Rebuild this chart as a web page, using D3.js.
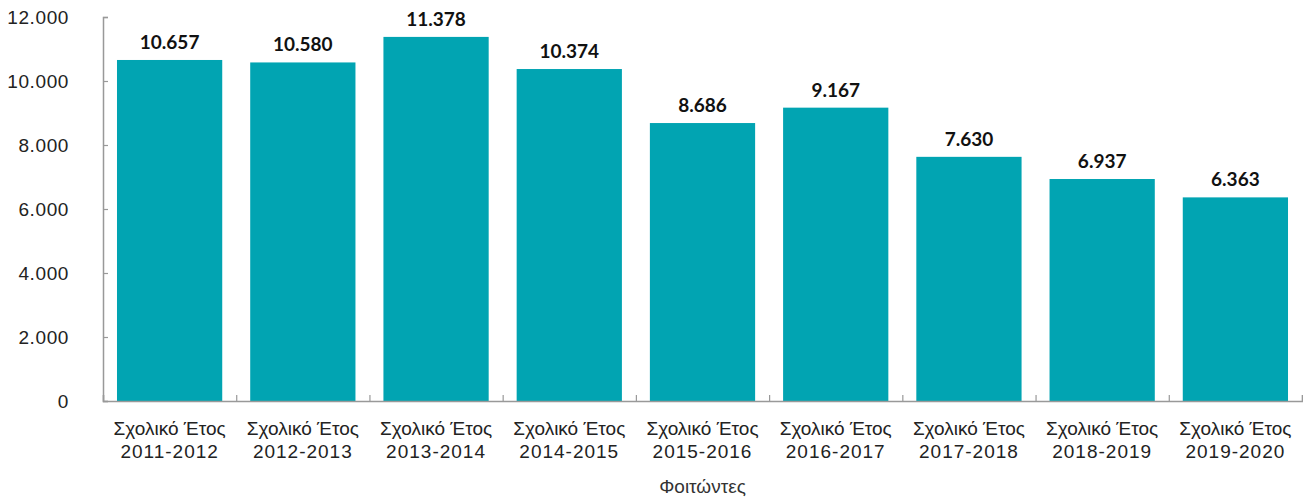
<!DOCTYPE html>
<html>
<head>
<meta charset="utf-8">
<script src="https://cdn.jsdelivr.net/npm/d3@7"></script>
<style>
body { margin: 0; background: white; }
</style>
</head>
<body>
<svg></svg>
<script>
var years = ["2011-2012", "2012-2013", "2013-2014", "2014-2015", "2015-2016",
             "2016-2017", "2017-2018", "2018-2019", "2019-2020"];
var students = [10657, 10580, 11378, 10374, 8686, 9167, 7630, 6937, 6363];
var yTicks = [0, 2000, 4000, 6000, 8000, 10000, 12000];
var prefix = "Σχολικό Έτος";
var axisTitle = "Φοιτώντες";

var svgWidth = 1303, svgHeight = 499;
var mLeft = 103, mRight = 1302, mTop = 17, mBottom = 401;

var svg = d3.select('svg')
    .attr('width', svgWidth)
    .attr('height', svgHeight);

var fmt = function(v) { return d3.format(",")(v).replace(/,/g, "."); };

var xScale = d3.scaleBand()
    .domain(years)
    .range([mLeft, mRight])
    .paddingInner(0.21)
    .paddingOuter(0.105);

var yScale = d3.scaleLinear()
    .domain([0, 12000])
    .range([mBottom, mTop]);

// bars
svg.selectAll("rect.bar")
    .data(students)
    .enter().append("rect")
    .attr("class", "bar")
    .attr("x", function(d, i) { return xScale(years[i]); })
    .attr("y", function(d) { return yScale(d); })
    .attr("width", xScale.bandwidth())
    .attr("height", function(d) { return mBottom - yScale(d); })
    .attr("fill", "#01A4B2");

// value labels
svg.selectAll("text.val")
    .data(students)
    .enter().append("text")
    .attr("class", "val")
    .attr("x", function(d, i) { return xScale(years[i]) + xScale.bandwidth() / 2; })
    .attr("y", function(d) { return yScale(d) - 11; })
    .attr("text-anchor", "middle")
    .style("font-family", "Lato")
    .style("font-weight", "bold")
    .style("font-size", "19px")
    .style("fill", "#111")
    .text(function(d) { return fmt(d); });

// y axis
var y_axis = d3.axisRight(yScale)
    .tickValues(yTicks)
    .tickSize(5)
    .tickFormat(function(d) { return fmt(d); });

var gy = svg.append("g")
    .attr("transform", "translate(" + mLeft + ",0)")
    .call(y_axis);
gy.select(".domain").attr("stroke", "#999").attr("stroke-width", 1.5);
gy.selectAll(".tick line").attr("stroke", "#999").attr("stroke-width", 1.2);
gy.selectAll(".tick text")
    .attr("x", -34)
    .attr("dy", "0.35em")
    .attr("text-anchor", "end")
    .style("font-family", "Liberation Sans")
    .style("font-size", "19px")
    .style("letter-spacing", "0.6px")
    .style("fill", "#222");

// x axis (ticks at band edges, pointing up)
var edgeScale = d3.scaleLinear().domain([0, years.length]).range([mLeft, mRight]);
var x_axis = d3.axisTop(edgeScale)
    .tickValues(d3.range(years.length + 1))
    .tickSize(6)
    .tickFormat("");
var gx = svg.append("g")
    .attr("transform", "translate(0," + mBottom + ")")
    .call(x_axis);
gx.select(".domain").attr("stroke", "#999").attr("stroke-width", 1.5);
gx.selectAll(".tick line").attr("stroke", "#999").attr("stroke-width", 1.2);

// category labels
var labels = svg.selectAll("text.cat")
    .data(years)
    .enter().append("text")
    .attr("class", "cat")
    .attr("text-anchor", "middle")
    .style("font-family", "Liberation Sans")
    .style("font-size", "19px")
    .style("fill", "#222");
labels.append("tspan")
    .attr("x", function(d) { return xScale(d) + xScale.bandwidth() / 2; })
    .attr("y", 435)
    .text(prefix);
labels.append("tspan")
    .attr("x", function(d) { return xScale(d) + xScale.bandwidth() / 2; })
    .attr("y", 458)
    .style("letter-spacing", "1px")
    .text(function(d) { return d; });

svg.append("text")
    .attr("x", (mLeft + mRight) / 2)
    .attr("y", 493)
    .attr("text-anchor", "middle")
    .style("font-family", "Liberation Sans")
    .style("font-size", "19px")
    .style("fill", "#333")
    .text(axisTitle);
</script>
</body>
</html>
